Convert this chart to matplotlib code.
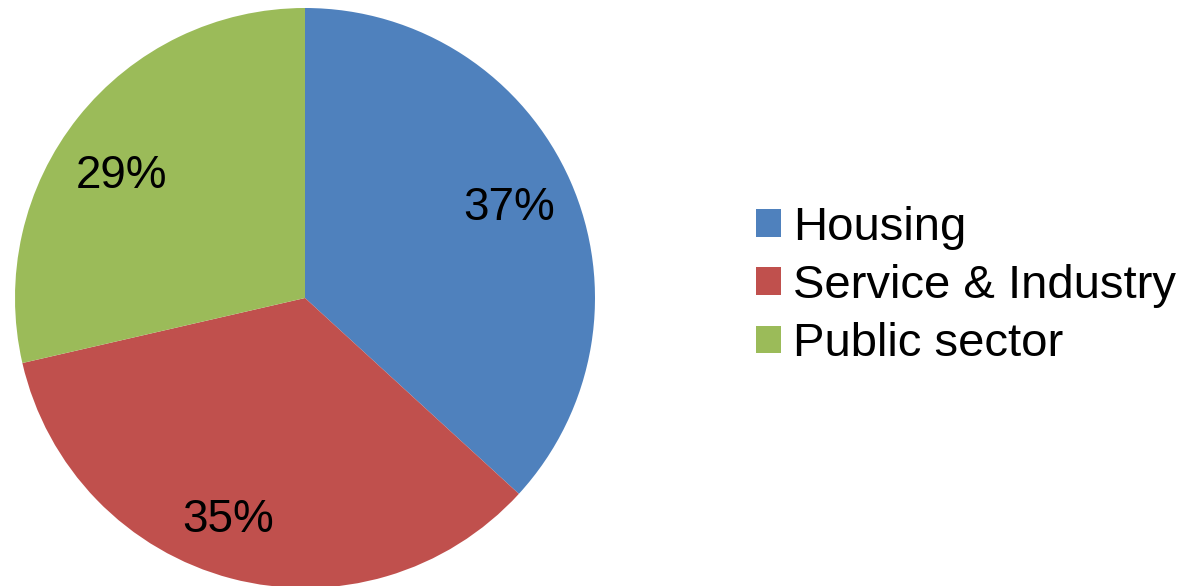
import matplotlib.pyplot as plt
from matplotlib.patches import Patch

plt.rcParams['font.family'] = ['Liberation Sans', 'DejaVu Sans']

# data
sectors = ['Housing', 'Service & Industry', 'Public sector']
shares = [36.8, 34.6, 28.6]
colors = ['#4F81BD', '#C0504D', '#9BBB59']

fig = plt.figure(figsize=(11.87, 5.86), dpi=100)
W, H = 1187, 586
cx, cy, r = 305, 298, 290
ax = fig.add_axes([(cx - r) / W, (H - cy - r) / H, 2 * r / W, 2 * r / H])

wedges, texts, autotexts = ax.pie(shares, colors=colors, startangle=90, counterclock=False,
                                  autopct='%1.0f%%', pctdistance=0.77, radius=1,
                                  textprops={'fontsize': 33, 'color': 'black'})
# small nudges so the labels sit where the original puts them
nudges = [(0.0, 0.0), (-0.07, -0.02), (-0.03, -0.06)]
for t, (dx, dy) in zip(autotexts, nudges):
    x, y = t.get_position()
    t.set_position((x + dx, y + dy))

ax.set_xlim(-1, 1)
ax.set_ylim(-1, 1)
ax.set_aspect('equal')
ax.axis('off')

handles = [Patch(facecolor=c, edgecolor='none') for c in colors]
fig.legend(handles, sectors, loc='center left', bbox_to_anchor=(756 / W, 1 - 286 / H),
           frameon=False, fontsize=34, handlelength=0.53, handleheight=0.53,
           handletextpad=0.26, labelspacing=0.3, borderpad=0, borderaxespad=0)

fig.savefig('out.png', dpi=100)
